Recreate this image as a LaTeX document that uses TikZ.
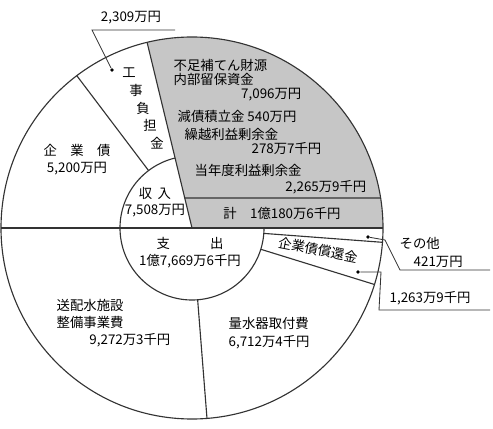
\documentclass[tikz,border=0pt]{standalone}
\usepackage{fontspec}
\setmainfont{Noto Sans CJK JP}
\usepackage{tikz}
\usetikzlibrary{positioning,calc}
\newcommand{\outr}{191}
\newcommand{\innr}{72}

\begin{document}
\begin{tikzpicture}
[x=.25mm,y=.25mm,
part/.style={draw=black!80,line width=.8pt},
lbl/.style={font=\fontsize{9.5}{11}\selectfont,inner sep=1pt},
lead/.style={draw=black!80,line width=.6pt},
dot/.style={circle,fill=black,inner sep=0pt,minimum size=2.8pt}]
\useasboundingbox (0,0) rectangle (493,428);
\coordinate (c) at (192,200);
%%
\fill[gray!45] (c) -- ++(0:\outr) arc[start angle=0,end angle=103.6,radius=\outr] -- cycle;
\draw[part] (c) circle[radius=\outr];
\draw[part] ($(c)+(103.6:\innr)$) arc[start angle=103.6,end angle=360,radius=\innr];
\draw[part,line width=1.2pt] ($(c)+(180:\outr)$) -- ($(c)+(0:\outr)$);
\draw[part] (c) -- ++(103.6:\outr);
\foreach \a in {127.1,274.5,342.8,355.7}
  \draw[part] ($(c)+(\a:\innr)$) -- ($(c)+(\a:\outr)$);
\draw[part,line width=1pt] ($(c)+(103.6:30.9)$) -- ($(c)+(9.04:\outr)$);
%% income
\node[lbl] (kb) at (77,278) {企\quad 業\quad 債};
\node[lbl,below=2pt of kb] (kbv) {5,200万円};
\foreach \ch/\px/\py [count=\i] in {工/129/355,事/136/338,負/143/320,担/150/303,金/157/285}
  \node[lbl] (kf\i) at (\px,\py) {\ch};
\node[lbl,anchor=west] (hz1) at (172,363) {不足補てん財源};
\node[lbl,anchor=west] (hz2) at (172,349) {内部留保資金};
\node[lbl,anchor=east] (hz3) at (303,333) {7,096万円};
\node[lbl,anchor=west] (gs) at (176,312) {減債積立金 540万円};
\node[lbl,anchor=west] (kr1) at (183,294) {繰越利益剰余金};
\node[lbl,anchor=east] (kr2) at (323,279) {278万7千円};
\node[lbl,anchor=west] (tn1) at (193,258) {当年度利益剰余金};
\node[lbl,anchor=east] (tn2) at (368,241) {2,265万9千円};
\node[lbl] (total) at (282,215) {計\quad 1億180万6千円};
\node[lbl] (inc) at (155,235) {収\hspace{.4em}入};
\node[lbl] (incv) at (155,217) {7,508万円};
%% expenditure
\node[lbl] (exp) at (190,185) {支\hspace{3em}出};
\node[lbl] (expv) at (190,167) {1億7,669万6千円};
\node[lbl,anchor=west] (hs1) at (55,123) {送配水施設};
\node[lbl,anchor=west] (hs2) at (55,106) {整備事業費};
\node[lbl,anchor=east] (hs3) at (172,88) {9,272万3千円};
\node[lbl,anchor=west] (ry1) at (227,105) {量水器取付費};
\node[lbl,anchor=west] (ry2) at (227,86) {6,712万4千円};
\node[lbl,rotate=-11] (sk) at (318,178) {企業債償還金};
%% leaders
\node[dot] (d1) at (112,358) {};
\node[lbl] (l1) at (131,410) {2,309万円};
\coordinate (u1) at (92,398);
\coordinate (u2) at (175,398);
\draw[lead] (d1) -- (u1) -- (u2);
\node[dot] (d2) at (368,191) {};
\node[lbl,anchor=west] (l2) at (398,185) {その他};
\node[lbl,anchor=west] (l2v) at (412,166) {421万円};
\coordinate (k1) at (385,188);
\coordinate (k2) at (400,158);
\coordinate (k3) at (490,158);
\draw[lead] (d2) -- (k1) -- (k2) -- (k3);
\node[dot] (d3) at (358,156) {};
\node[lbl,anchor=west] (l3) at (388,130) {1,263万9千円};
\coordinate (m1) at (381,156);
\coordinate (m2) at (379,118);
\coordinate (m3) at (490,118);
\draw[lead] (d3) -- (m1) -- (m2) -- (m3);
\end{tikzpicture}
\end{document}
